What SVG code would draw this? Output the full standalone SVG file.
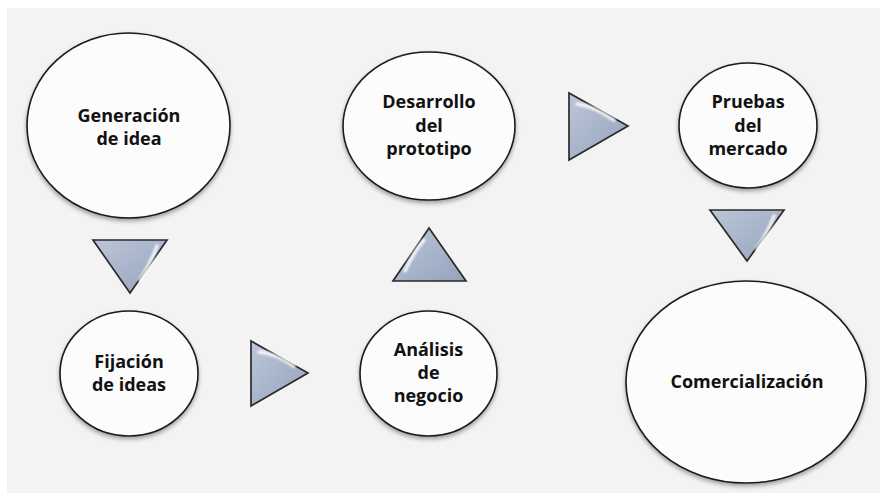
<svg xmlns="http://www.w3.org/2000/svg" width="880" height="493" viewBox="0 0 880 493">
  <defs>
    <linearGradient id="triFill" x1="0" y1="0" x2="1" y2="1">
      <stop offset="0" stop-color="#bcc6d8"/>
      <stop offset="1" stop-color="#95a3bd"/>
    </linearGradient>
    <filter id="shadow" x="-10%" y="-10%" width="120%" height="125%">
      <feDropShadow dx="0" dy="2.5" stdDeviation="2" flood-color="#000" flood-opacity="0.35"/>
    </filter>
    <filter id="soft" filterUnits="userSpaceOnUse" x="0" y="0" width="880" height="493">
      <feGaussianBlur stdDeviation="0.8"/>
    </filter>
    <style>
      .node ellipse { fill: #fcfcfc; stroke: #1a1a1a; stroke-width: 1.6; filter: url(#shadow); }
      .label { font-family: "Open Sans", "Liberation Sans", sans-serif; font-weight: bold; font-size: 18px; fill: #111111; text-anchor: middle; }
      .tri { fill: url(#triFill); stroke: #2a2a2a; stroke-width: 1.7; stroke-linejoin: miter; }
      .glint { fill: none; stroke: #ffffff; stroke-width: 3.5; stroke-linecap: round; opacity: 0.85; filter: url(#soft); }
    </style>
  </defs>

  <rect x="0" y="0" width="880" height="493" fill="#ffffff"/>
  <rect x="7" y="8" width="873" height="485" fill="#f3f3f3"/>

  <g id="connectors">
    <g id="arrow-gen-fij">
      <polygon class="tri" points="93,240 167,240 130,293"/>
      <path class="glint" d="M157,246 Q151,263 140,280"/>
    </g>
    <g id="arrow-fij-ana">
      <polygon class="tri" points="251,341 251,406 308,373"/>
      <path class="glint" d="M259,352 Q275,353 294,366"/>
    </g>
    <g id="arrow-ana-des">
      <polygon class="tri" points="393,281 466,281 429,228"/>
      <path class="glint" d="M424,240 Q414,251 405,271"/>
    </g>
    <g id="arrow-des-pru">
      <polygon class="tri" points="569,93 569,160 628,126"/>
      <path class="glint" d="M577,104 Q594,106 614,120"/>
    </g>
    <g id="arrow-pru-com">
      <polygon class="tri" points="710,210 784,210 747,261"/>
      <path class="glint" d="M774,216 Q768,232 757,249"/>
    </g>
  </g>

  <g id="node-generacion" class="node">
    <ellipse cx="128.5" cy="125.5" rx="101.5" ry="92.5"/>
    <text class="label" x="129" y="122">Generación</text>
    <text class="label" x="129" y="145">de idea</text>
  </g>

  <g id="node-fijacion" class="node">
    <ellipse cx="129" cy="373.5" rx="69" ry="62.5"/>
    <text class="label" x="129" y="368">Fijación</text>
    <text class="label" x="129" y="391">de ideas</text>
  </g>

  <g id="node-analisis" class="node">
    <ellipse cx="428.5" cy="373.5" rx="68.5" ry="62.5"/>
    <text class="label" x="428.5" y="356">Análisis</text>
    <text class="label" x="428.5" y="379">de</text>
    <text class="label" x="428.5" y="402">negocio</text>
  </g>

  <g id="node-desarrollo" class="node">
    <ellipse cx="429" cy="126" rx="86" ry="74"/>
    <text class="label" x="429" y="108">Desarrollo</text>
    <text class="label" x="429" y="132">del</text>
    <text class="label" x="429" y="155">prototipo</text>
  </g>

  <g id="node-pruebas" class="node">
    <ellipse cx="748" cy="125.5" rx="69" ry="62.5"/>
    <text class="label" x="748" y="108">Pruebas</text>
    <text class="label" x="748" y="132">del</text>
    <text class="label" x="748" y="155">mercado</text>
  </g>

  <g id="node-comercializacion" class="node">
    <ellipse cx="746" cy="382" rx="120" ry="101"/>
    <text class="label" x="747" y="388">Comercialización</text>
  </g>
</svg>
